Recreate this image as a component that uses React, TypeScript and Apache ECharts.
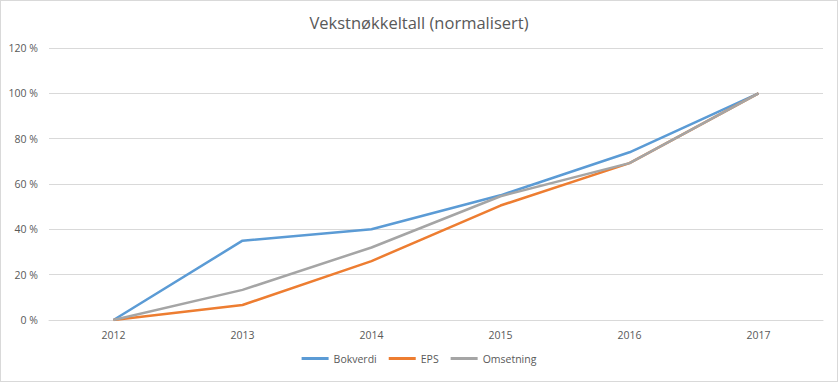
import React, { useEffect, useRef } from "react";
import * as echarts from "echarts";

const categories = ["2012", "2013", "2014", "2015", "2016", "2017"];
const bokverdi = [0, 35, 40, 55, 74, 100];
const eps = [0, 6.6, 26, 50.5, 69.2, 100];
const omsetning = [0, 13.3, 32, 54.6, 69.2, 100];
const seriesNames = ["Bokverdi", "EPS", "Omsetning"];
const colors = ["#5B9BD5", "#ED7D31", "#A5A5A5"];

export default function App() {
  const ref = useRef<HTMLDivElement>(null);
  useEffect(() => {
    if (!ref.current) return;
    const chart = echarts.init(ref.current, undefined, { renderer: "svg" });
    const font = "'Open Sans', 'Liberation Sans', sans-serif";
    const dataSets = [bokverdi, eps, omsetning];
    chart.setOption({
      animation: false,
      backgroundColor: "#ffffff",
      title: {
        text: "Vekstnøkkeltall (normalisert)",
        left: "center",
        top: 8,
        textStyle: { fontFamily: font, fontSize: 16.5, fontWeight: "normal", color: "#595959" },
      },
      legend: {
        bottom: 12,
        left: "center",
        itemWidth: 27,
        itemHeight: 3,
        itemGap: 12,
        icon: "rect",
        textStyle: { fontFamily: font, fontSize: 10.5, color: "#595959" },
        data: seriesNames,
      },
      grid: { left: 48, right: 14, top: 47, bottom: 61 },
      xAxis: {
        type: "category",
        data: categories,
        boundaryGap: true,
        axisLine: { show: true, lineStyle: { color: "#d9d9d9" } },
        axisTick: { show: false },
        axisLabel: { fontFamily: font, fontSize: 10.5, color: "#595959", margin: 9 },
      },
      yAxis: {
        type: "value",
        min: 0,
        max: 120,
        interval: 20,
        axisLine: { show: false },
        axisTick: { show: false },
        splitLine: { lineStyle: { color: "#d9d9d9", width: 1 } },
        axisLabel: {
          fontFamily: font,
          fontSize: 10.5,
          color: "#595959",
          margin: 11,
          formatter: (v: number) => `${v} %`,
        },
      },
      series: seriesNames.map((name, i) => ({
        name,
        type: "line",
        data: dataSets[i],
        showSymbol: false,
        symbol: "none",
        lineStyle: { color: colors[i], width: 2.5 },
        itemStyle: { color: colors[i] },
      })),
    });
    return () => chart.dispose();
  }, []);
  return (
    <div
      style={{
        position: "fixed",
        left: 0,
        top: 0,
        width: 838,
        height: 382,
        boxSizing: "border-box",
        border: "1px solid #d9d9d9",
        background: "#fff",
      }}
    >
      <div ref={ref} style={{ width: 836, height: 380 }} />
    </div>
  );
}
